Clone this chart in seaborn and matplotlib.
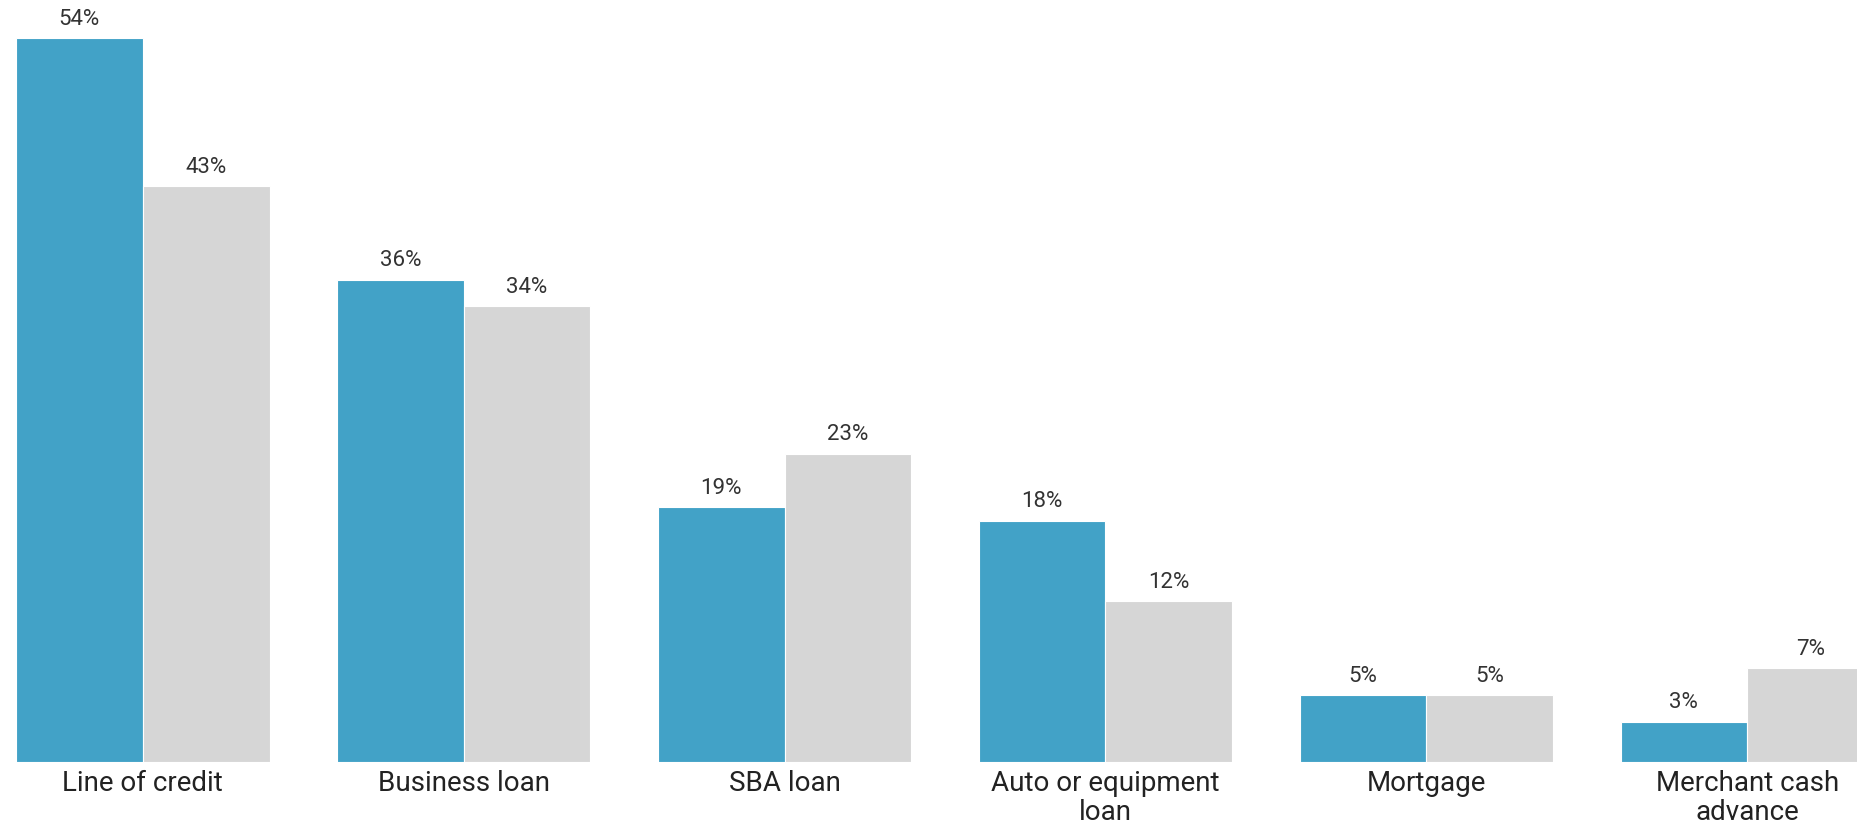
import pandas as pd
import matplotlib.pyplot as plt
import seaborn as sns

categories = ["Line of credit", "Business loan", "SBA loan",
              "Auto or equipment\nloan", "Mortgage", "Merchant cash\nadvance"]
series_names = ["Series A", "Series B"]
series_a = [54, 36, 19, 18, 5, 3]
series_b = [43, 34, 23, 12, 5, 7]
colors = ["#42A2C7", "#D6D6D6"]

rows = []
for cat, a, b in zip(categories, series_a, series_b):
    rows.append({"category": cat, "series": series_names[0], "value": a})
    rows.append({"category": cat, "series": series_names[1], "value": b})
df = pd.DataFrame(rows)

sns.set_style("white")
plt.rcParams['font.family'] = ['Roboto', 'DejaVu Sans']

fig = plt.figure(figsize=(18.57, 8.26), dpi=100)
ax = fig.add_axes([0, 0.0775, 1, 0.9225])

sns.barplot(data=df, x="category", y="value", hue="series", palette=colors,
            saturation=1, width=0.79, gap=0, edgecolor="white", linewidth=0.8,
            legend=False, ax=ax)

# percentage labels on top of the bars
for cont in ax.containers:
    ax.bar_label(cont, labels=[f"{v:.0f}%" for v in cont.datavalues],
                 padding=6, fontsize=16, color="#333333")

ax.set_xlim(-0.445, 5.342)
ax.set_ylim(0, 56.87)
ax.set_xlabel("")
ax.set_ylabel("")
ax.set_yticks([])
ax.tick_params(axis="x", length=0, pad=6, labelsize=20, labelcolor="#222222")
for lab in ax.get_xticklabels():
    lab.set_linespacing(1.1)
sns.despine(ax=ax, left=True, bottom=True)

fig.savefig("out.png", dpi=100)
